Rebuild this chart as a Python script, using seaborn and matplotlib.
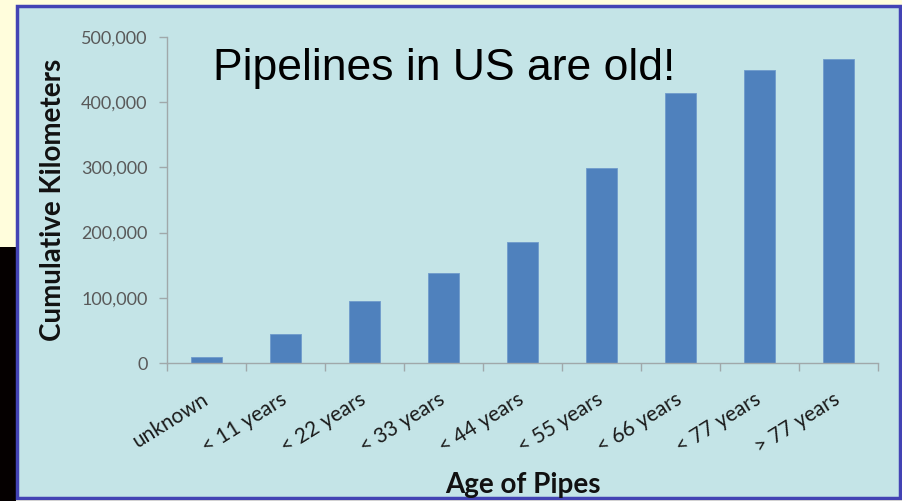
import matplotlib
matplotlib.use('Agg')
import matplotlib.pyplot as plt
from matplotlib.patches import Rectangle
from matplotlib.ticker import FuncFormatter, FixedLocator
import seaborn as sns
import pandas as pd

# Data
categories = ['unknown', '< 11 years', '< 22 years', '< 33 years', '< 44 years',
              '< 55 years', '< 66 years', '< 77 years', '> 77 years']
kilometers = [9000, 44000, 95000, 138000, 186000, 299000, 414000, 449000, 467000]

title = 'Pipelines in US are old!'
bg_chart = '#c4e4e7'
bar_color = '#4f81bd'

if __name__ == '__main__':

    df = pd.DataFrame({'age': categories, 'km': kilometers})

    sns.set_style('white')
    plt.rcParams['font.family'] = ['Lato', 'DejaVu Sans']

    fig = plt.figure(figsize=(9.02, 5.01), dpi=100)
    fig.patch.set_facecolor('#fffddc')

    # slide decoration
    fig.patches.append(Rectangle((0, 0), 16 / 902, 1 - 247 / 501, transform=fig.transFigure,
                                 facecolor='#050000', edgecolor='none', zorder=-2))
    fig.patches.append(Rectangle((17 / 902, 3 / 501), 883 / 902, 492 / 501, transform=fig.transFigure,
                                 facecolor=bg_chart, edgecolor='#4343b4', linewidth=2.5, zorder=-2))

    ax = fig.add_axes([167 / 902, 1 - 363 / 501, 711 / 902, 326 / 501])
    ax.set_facecolor('none')

    sns.barplot(data=df, x='age', y='km', color=bar_color, width=0.4, saturation=1,
                edgecolor='#6f9bcc', linewidth=0.6, ax=ax)

    ax.set_ylim(0, 500000)
    ax.set_xlim(-0.5, len(categories) - 0.5)
    ax.yaxis.set_major_formatter(FuncFormatter(lambda v, p: f'{int(v):,}'))
    ax.set_yticks([0, 100000, 200000, 300000, 400000, 500000])

    for s in ['top', 'right']:
        ax.spines[s].set_visible(False)
    for s in ['left', 'bottom']:
        ax.spines[s].set_color('#a0a8aa')
        ax.spines[s].set_linewidth(1.0)

    ax.tick_params(axis='y', length=6, width=1, color='#a0a8aa', direction='out',
                   labelsize=13, labelcolor='#595959', pad=8, left=True)
    ax.xaxis.set_minor_locator(FixedLocator([i - 0.5 for i in range(len(categories) + 1)]))
    ax.tick_params(axis='x', which='minor', length=6, width=1, color='#a0a8aa', direction='out', bottom=True)
    ax.tick_params(axis='x', which='major', length=0, pad=25)
    plt.setp(ax.get_xticklabels(), rotation=32, ha='right', va='center', rotation_mode='anchor',
             fontsize=15, color='#1a1a1a')

    ax.set_xlabel('Age of Pipes', fontsize=20, fontweight='bold', color='#111111')
    ax.set_ylabel('Cumulative Kilometers', fontsize=20, fontweight='bold', color='#111111')
    ax.xaxis.set_label_coords(0.5, -0.335)
    ax.yaxis.set_label_coords(-0.142, 0.5)

    fig.text(213 / 902, 1 - 80 / 501, title, fontsize=32, family=['Liberation Sans', 'DejaVu Sans'],
             color='black', va='baseline', ha='left', zorder=5)

    fig.savefig('out.png', dpi=100, facecolor=fig.get_facecolor())
